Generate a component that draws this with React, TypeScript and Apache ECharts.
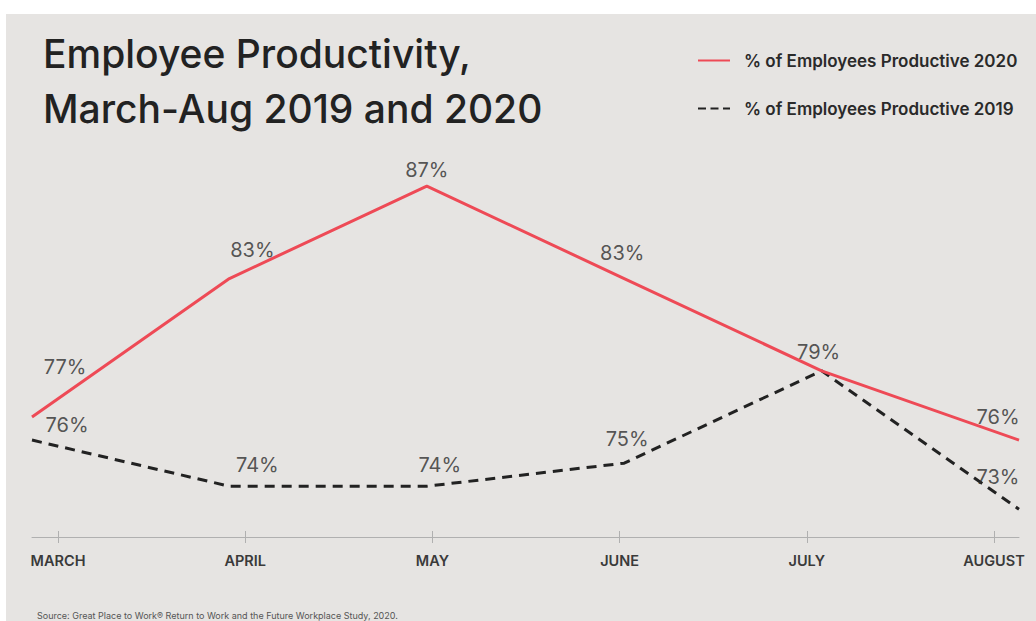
import React, { useEffect, useRef } from "react";
import * as echarts from "echarts";

const months = ["MARCH", "APRIL", "MAY", "JUNE", "JULY", "AUGUST"];
const productive2020 = [77, 83, 87, 83, 79, 76];
const productive2019 = [76, 74, 74, 75, 79, 73];
const seriesNames = ["% of Employees Productive 2020", "% of Employees Productive 2019"];
const titleText = "Employee Productivity,\nMarch-Aug 2019 and 2020";
const sourceText = "Source: Great Place to Work\u00ae Return to Work and the Future Workplace Study, 2020.";

// label placement (style only)
const off2020: ([number, number] | null)[] = [[33, -50], [23, -29], [0, -16], [-2, -26], [-3, -19], [-21, -23]];
const off2019: ([number, number] | null)[] = [[35, -15], [28, -21], [13, -21], [3, -24], null, [-21, -32]];

const RED = "#ee4a56";
const DARK = "#222222";
const FONT = "Inter, 'Open Sans', sans-serif";

export default function App() {
  const ref = useRef<HTMLDivElement>(null);
  useEffect(() => {
    document.body.style.margin = "0";
    const chart = echarts.init(ref.current!, undefined, { renderer: "svg" });
    const labelData = (vals: number[], offs: ([number, number] | null)[]) =>
      vals.map((v, i) => ({
        value: v,
        label: offs[i] ? { show: true, offset: offs[i] } : { show: false },
      }));
    const grid = { top: 117, bottom: 84 };
    chart.setOption({
      animation: false,
      backgroundColor: "#ffffff",
      textStyle: { fontFamily: FONT },
      graphic: [
        { type: "rect", left: 6, top: 14, shape: { width: 1030, height: 607 }, style: { fill: "#e6e4e2" }, z: -10 },
        { type: "text", left: 37, top: 611, style: { text: sourceText, fill: "#555", font: "9px " + FONT } },
      ],
      title: {
        text: titleText,
        left: 38,
        top: 21,
        textStyle: { fontSize: 39, lineHeight: 55, fontWeight: 500, color: "#222", fontFamily: FONT },
      },
      legend: {
        data: [
          { name: seriesNames[0] },
          { name: seriesNames[1], lineStyle: { type: [8, 4.5] } },
        ],
        orient: "vertical",
        left: 697,
        top: 52,
        padding: 0,
        itemWidth: 32,
        itemHeight: 12,
        itemGap: 31,
        itemStyle: { opacity: 0 },
        textStyle: { fontSize: 17, fontWeight: 600, color: "#2a2a2a", padding: [0, 0, 0, 9], fontFamily: FONT },
      },
      grid: [
        { left: 32, right: 17, ...grid },
        { left: 58, right: 42, ...grid },
      ],
      xAxis: [
        {
          type: "category", gridIndex: 0, data: months, boundaryGap: false,
          axisLine: { show: true, lineStyle: { color: "#b0b0b0", width: 1 } },
          axisTick: { show: false }, axisLabel: { show: false },
        },
        {
          type: "category", gridIndex: 1, data: months, boundaryGap: false, offset: -6,
          axisLine: { show: false },
          axisTick: { show: true, length: 12, lineStyle: { color: "#b0b0b0" } },
          axisLabel: { margin: 22, fontSize: 14.5, fontWeight: 600, color: "#3a3a3a", fontFamily: FONT },
        },
      ],
      yAxis: [
        { type: "value", gridIndex: 0, min: 71.8, max: 90, show: false },
        { type: "value", gridIndex: 1, min: 0, max: 1, show: false },
      ],
      series: [
        {
          name: seriesNames[0], type: "line", data: productive2020, symbol: "none",
          lineStyle: { color: RED, width: 3 }, itemStyle: { color: RED }, z: 3,
        },
        {
          name: seriesNames[1], type: "line", data: productive2019, symbol: "none",
          lineStyle: { color: DARK, width: 3, type: [10, 7] }, itemStyle: { color: DARK }, z: 2,
        },
        {
          name: "labels2020", type: "scatter", data: labelData(productive2020, off2020), symbolSize: 0,
          label: { position: "inside", color: "#2e2e2e", fontSize: 20, fontFamily: FONT, formatter: "{c}%" }, z: 5,
        },
        {
          name: "labels2019", type: "scatter", data: labelData(productive2019, off2019), symbolSize: 0,
          label: { position: "inside", color: "#2e2e2e", fontSize: 20, fontFamily: FONT, formatter: "{c}%" }, z: 5,
        },
      ],
    });
    return () => chart.dispose();
  }, []);
  return <div ref={ref} style={{ width: 1036, height: 621 }} />;
}
